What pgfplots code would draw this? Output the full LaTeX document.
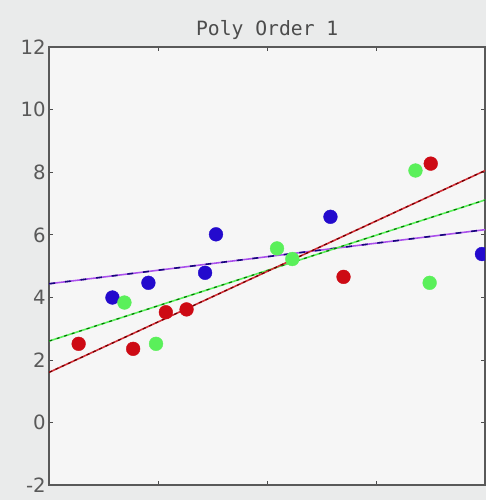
\documentclass[border=0pt]{standalone}
\usepackage{pgfplots}
\pgfplotsset{compat=1.18}
\usepackage{fontspec}
\setmainfont{DejaVu Sans}
\newfontfamily\monofont{DejaVu Sans Mono}
\usetikzlibrary{backgrounds,calc}
\definecolor{ptred}{RGB}{205,10,20}
\definecolor{ptblue}{RGB}{35,10,205}
\definecolor{ptgreen}{RGB}{90,240,90}
\definecolor{figbg}{RGB}{234,235,235}
\definecolor{axbg}{RGB}{246,246,246}
\begin{document}
\begin{tikzpicture}[background rectangle/.style={fill=figbg}, show background rectangle, inner frame sep=0pt]
\begin{axis}[
  name=ax,
  width=443pt, height=445pt, scale only axis,
  xmin=0, xmax=4, ymin=-2, ymax=12,
  xtick={0,1,2,3,4}, xticklabels={},
  ytick={-2,0,2,4,6,8,10,12},
  tick align=inside, major tick length=4pt,
  tick style={color=black!70, line width=1pt},
  axis line style={line width=1.6pt, color=black!65},
  axis background/.style={fill=axbg},
  title={\monofont Poly Order 1},
  title style={font=\fontsize{20}{24}\selectfont, color=black!70, yshift=-2pt},
  ticklabel style={font=\fontsize{20}{24}\selectfont, color=black!65},
  /pgf/number format/assume math mode=true,
  clip marker paths=true,
]
% fit lines
\addplot[ptblue!55!magenta!70, line width=1.6pt] coordinates {(0,4.44) (4,6.17)};
\addplot[ptblue!60!black, line width=1.6pt, dash pattern=on 6pt off 10pt] coordinates {(0,4.44) (4,6.17)};
\addplot[ptgreen, line width=1.6pt] coordinates {(0,2.61) (4,7.12)};
\addplot[green!45!black, line width=1.2pt, dash pattern=on 3pt off 5pt] coordinates {(0,2.61) (4,7.12)};
\addplot[ptred!85, line width=1.6pt] coordinates {(0,1.61) (4,8.06)};
\addplot[red!40!black, line width=1.2pt, dash pattern=on 3pt off 4pt] coordinates {(0,1.61) (4,8.06)};
% data points
\addplot[only marks, mark=*, mark size=7pt, color=ptred] coordinates {
(0.27,2.52) (0.77,2.36) (1.07,3.53) (1.26,3.62) (2.70,4.66) (3.50,8.28)};
\addplot[only marks, mark=*, mark size=7pt, color=ptblue] coordinates {
(0.58,4.00) (0.91,4.47) (1.43,4.79) (1.53,6.02) (2.58,6.58) (3.97,5.39)};
\addplot[only marks, mark=*, mark size=7pt, color=ptgreen] coordinates {
(0.69,3.84) (0.98,2.52) (2.09,5.57) (2.23,5.23) (3.36,8.06) (3.49,4.47)};
\end{axis}
\pgfresetboundingbox
\path[use as bounding box] ($(ax.south west)+(-50pt,-15pt)$) rectangle ($(ax.north east)+(1pt,48pt)$);
\end{tikzpicture}
\end{document}
